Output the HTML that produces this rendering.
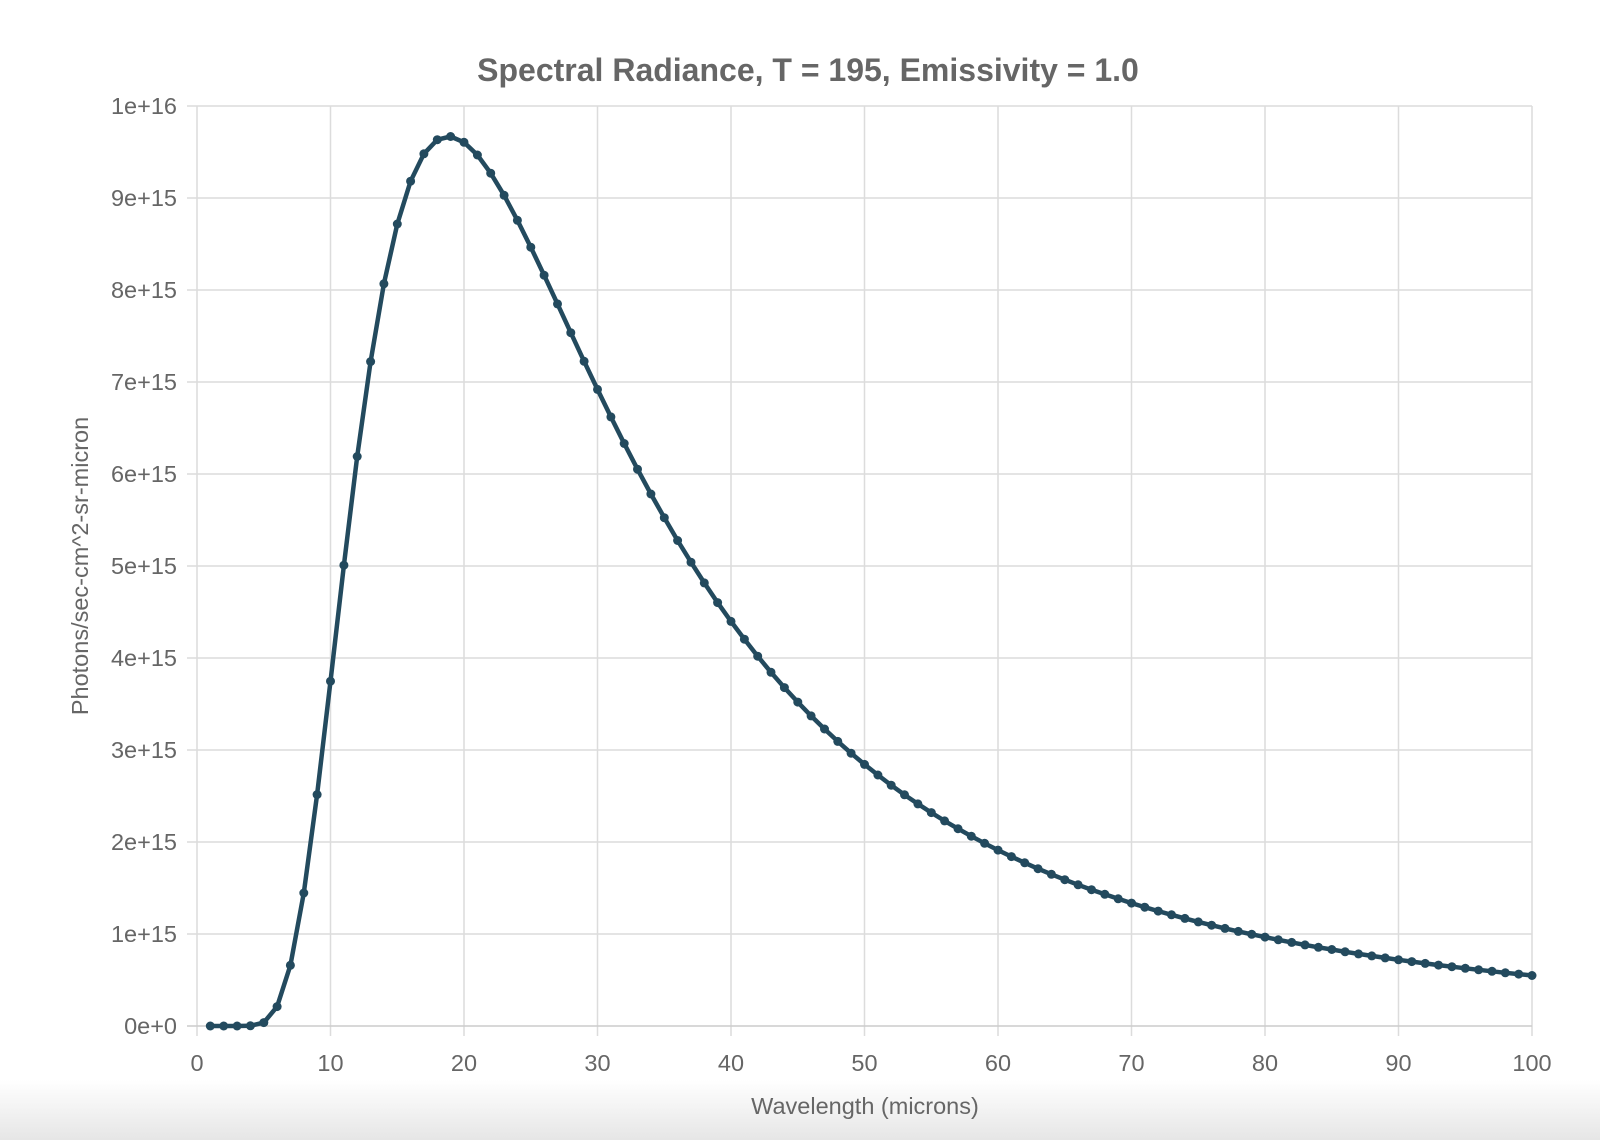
<!DOCTYPE html>
<html><head><meta charset="utf-8"><style>
html,body{margin:0;padding:0;width:1600px;height:1140px;overflow:hidden;background:#fff;font-family:"Liberation Sans",sans-serif}
#bg{position:absolute;left:0;top:1080px;width:1600px;height:60px;background:linear-gradient(#fff,#e6e6e6)}
svg{position:absolute;left:0;top:0}
</style></head><body>
<div id="bg"></div>
<svg id="s" width="1600" height="1140" xmlns="http://www.w3.org/2000/svg"></svg>
<script>
const s=document.getElementById('s');
const X0=197,X1=1532,Y0=1026,Y1=106;
const xp=v=>X0+(X1-X0)*v/100, yp=v=>Y0-(Y0-Y1)*v/1e16;
let h='';
for(let i=0;i<=10;i++){const x=xp(i*10);h+=`<line x1="${x}" y1="${Y1}" x2="${x}" y2="${Y0+10}" stroke="#dcdcdc" stroke-width="1.5"/>`;
h+=`<text x="${x}" y="${Y0+45}" font-size="23.5" fill="#666" text-anchor="middle">${i*10}</text>`;}
for(let j=0;j<=10;j++){const y=yp(j*1e15);h+=`<line x1="${X0-10}" y1="${y}" x2="${X1}" y2="${y}" stroke="${j==0?'#ccc':'#dcdcdc'}" stroke-width="1.5"/>`;
const lab=j==10?'1e+16':j+'e+'+(j==0?'0':'15');
h+=`<text x="${X0-20}" y="${y+8}" font-size="23.5" fill="#666" text-anchor="end">${lab}</text>`;}
const f=l=>1/(Math.pow(l,4)*(Math.exp(14388/(l*195))-1));
let mx=0;for(let l=1;l<=100;l+=0.01)mx=Math.max(mx,f(l));
const sc=9.67e15/mx;let pts=[];
for(let l=1;l<=100;l++)pts.push([xp(l),yp(f(l)*sc)]);
h+=`<polyline points="${pts.map(p=>p[0].toFixed(1)+','+p[1].toFixed(1)).join(' ')}" fill="none" stroke="#234a5e" stroke-width="4.5" stroke-linejoin="round"/>`;
pts.forEach(p=>h+=`<circle cx="${p[0].toFixed(1)}" cy="${p[1].toFixed(1)}" r="4.5" fill="#234a5e"/>`);
h+=`<text x="808" y="81" font-size="32" font-weight="bold" fill="#666" text-anchor="middle">Spectral Radiance, T = 195, Emissivity = 1.0</text>`;
h+=`<text x="865" y="1114" font-size="23.5" fill="#666" text-anchor="middle">Wavelength (microns)</text>`;
h+=`<text transform="translate(88,566) rotate(-90)" font-size="23.5" fill="#666" text-anchor="middle">Photons/sec-cm^2-sr-micron</text>`;
s.innerHTML=h;
</script>
</body></html>
